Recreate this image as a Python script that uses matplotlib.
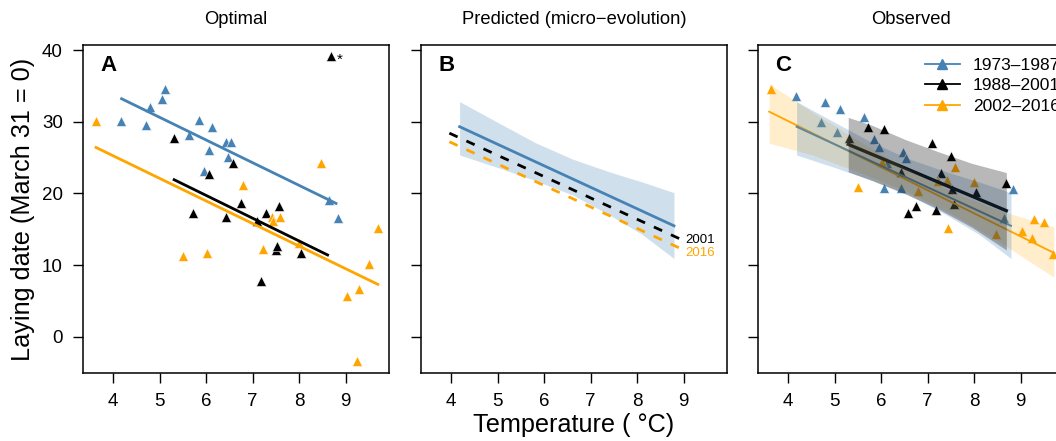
import matplotlib
matplotlib.use('Agg')
import matplotlib.pyplot as plt
from matplotlib.lines import Line2D

plt.rcParams['font.family'] = ['Liberation Sans', 'DejaVu Sans']
plt.rcParams['lines.scale_dashes'] = False

BLUE = '#4682B4'
ORANGE = '#FFA500'
BLACK = 'black'

# ---- data: spring temperature per year, optimal (A) and observed (C) laying dates
temp_p1 = [4.17, 4.70, 4.80, 5.05, 5.11, 5.62, 5.84, 5.95, 6.05, 6.13, 6.42, 6.46, 6.53, 8.64, 8.83]
opt_p1 = [30.1, 29.6, 32.1, 33.2, 34.6, 28.1, 30.2, 23.1, 26.1, 29.2, 27.1, 25.1, 27.1, 19.1, 16.6]
obs_p1 = [33.6, 30.0, 32.8, 28.5, 31.7, 30.6, 27.6, 26.4, 20.8, 24.2, 20.8, 25.7, 25.0, 16.6, 20.6]

temp_p2 = [5.30, 5.71, 6.05, 6.42, 6.57, 6.74, 7.09, 7.17, 7.29, 7.50, 7.52, 7.57, 8.04, 8.68]
opt_p2 = [27.7, 17.2, 22.7, 16.7, 24.2, 18.7, 16.2, 7.7, 17.2, 12.1, 12.7, 18.2, 11.7, 39.2]
obs_p2 = [27.7, 29.3, 29.0, 23.0, 17.3, 18.3, 27.0, 17.7, 22.8, 25.2, 20.6, 18.5, 20.2, 21.4]

temp_p3 = [3.63, 5.49, 6.01, 6.80, 7.23, 7.41, 7.44, 7.59, 8.00, 8.47, 9.02, 9.25, 9.28, 9.51, 9.69]
opt_p3 = [30.1, 11.2, 11.7, 21.2, 12.2, 16.7, 16.2, 16.7, 13.1, 24.2, 5.7, -3.4, 6.6, 10.2, 15.2]
obs_p3 = [34.5, 20.9, 24.4, 20.3, 21.7, 21.9, 15.2, 23.7, 21.6, 14.3, 14.7, 13.7, 16.4, 16.0, 11.5]

# panel A regression lines (end points)
optline_x1, optline_y1 = [4.18, 8.79], [33.2, 18.6]
optline_x2, optline_y2 = [5.31, 8.61], [21.9, 11.4]
optline_x3, optline_y3 = [3.63, 9.69], [26.4, 7.3]

# panel B: fit for 1973-1987 with CI, predicted shifts for 2001 and 2016
fit1_x = [4.18, 5.0, 5.8, 6.6, 7.4, 8.1, 8.79]
fit1_y = [29.3, 26.84, 24.44, 22.04, 19.64, 17.54, 15.47]
fit1_hi = [32.8, 29.9, 27.1, 24.8, 23.0, 21.6, 20.1]
fit1_lo = [25.35, 23.6, 21.8, 19.8, 17.0, 14.3, 10.9]
pred_x = [3.96, 9.0]
pred_2001 = [28.4, 13.4]
pred_2016 = [27.2, 12.1]

# panel C: fits for the two later periods with CI
fit2_x = [5.29, 5.8, 6.52, 7.23, 7.94, 8.69]
fit2_y = [26.84, 25.45, 23.5, 21.56, 19.63, 17.58]
fit2_hi = [30.6, 29.5, 27.5, 25.8, 24.2, 22.9]
fit2_lo = [23.0, 21.8, 19.9, 17.8, 15.3, 12.1]
fit3_x = [3.59, 4.5, 5.5, 6.5, 7.5, 8.5, 9.71]
fit3_y = [31.4, 28.47, 25.25, 22.03, 18.81, 15.59, 11.7]
fit3_hi = [35.3, 31.4, 27.4, 23.6, 20.3, 17.7, 15.3]
fit3_lo = [27.0, 25.4, 23.0, 20.4, 17.2, 13.4, 8.3]

periods = ['1973\u20131987', '1988\u20132001', '2002\u20132016']
titles = ['Optimal', 'Predicted (micro\u2212evolution)', 'Observed']
letters = ['A', 'B', 'C']

W, H = 1056, 441
fig = plt.figure(figsize=(W / 100, H / 100), dpi=100)
lefts = [83, 421, 758]
axes = []
for i, l in enumerate(lefts):
    ax = fig.add_axes([l / W, (H - 373) / H, 306 / W, 328 / H])
    ax.set_xlim(3.35, 9.93)
    ax.set_ylim(-5.07, 40.7)
    ax.set_xticks([4, 5, 6, 7, 8, 9])
    ax.set_yticks([0, 10, 20, 30, 40])
    ax.tick_params(direction='out', length=7.5, width=1, labelsize=13.5, pad=7)
    if i > 0:
        ax.set_yticklabels([])
    for s in ax.spines.values():
        s.set_linewidth(1.1)
    ax.text(0.5, 1 + 26 / 328, titles[i], transform=ax.transAxes,
            ha='center', va='center', fontsize=13.2)
    ax.text(0.057, 0.937, letters[i], transform=ax.transAxes, ha='left',
            va='center', fontsize=16, fontweight='bold')
    axes.append(ax)

mk = dict(marker='^', linestyle='none', ms=6.8, mec='white', mew=0.4)

# A: optimal
ax = axes[0]
ax.plot(temp_p1, opt_p1, color=BLUE, **mk)
ax.plot(temp_p2, opt_p2, color=BLACK, **mk)
ax.plot(temp_p3, opt_p3, color=ORANGE, **mk)
ax.plot(optline_x1, optline_y1, color=BLUE, lw=2)
ax.plot(optline_x2, optline_y2, color=BLACK, lw=2)
ax.plot(optline_x3, optline_y3, color=ORANGE, lw=2)
ax.text(temp_p2[-1] + 0.12, opt_p2[-1] - 0.5, '*', fontsize=11, ha='left', va='center')

# B: predicted
ax = axes[1]
ax.fill_between(fit1_x, fit1_lo, fit1_hi, color=BLUE, alpha=0.25, lw=0)
ax.plot(fit1_x, fit1_y, color=BLUE, lw=2)
ax.plot(pred_x, pred_2001, color=BLACK, lw=2, linestyle=(0, (6.5, 7)))
ax.plot(pred_x, pred_2016, color=ORANGE, lw=2, linestyle=(0, (6.5, 7)))
ax.text(pred_x[1] + 0.03, pred_2001[1] + 0.1, '2001', color=BLACK, fontsize=9.5, ha='left', va='center')
ax.text(pred_x[1] + 0.03, pred_2016[1] - 0.45, '2016', color=ORANGE, fontsize=9.5, ha='left', va='center')

# C: observed
ax = axes[2]
ax.plot(temp_p1, obs_p1, color=BLUE, **mk)
ax.plot(temp_p2, obs_p2, color=BLACK, **mk)
ax.plot(temp_p3, obs_p3, color=ORANGE, **mk)
ax.plot(fit3_x, fit3_y, color=ORANGE, lw=1.3)
ax.plot(fit1_x, fit1_y, color=BLUE, lw=1.4)
ax.plot(fit2_x, fit2_y, color=BLACK, lw=2.4)
ax.fill_between(fit3_x, fit3_lo, fit3_hi, color=ORANGE, alpha=0.2, lw=0, zorder=3)
ax.fill_between(fit1_x, fit1_lo, fit1_hi, color=BLUE, alpha=0.25, lw=0, zorder=3)
ax.fill_between(fit2_x, fit2_lo, fit2_hi, color=BLACK, alpha=0.28, lw=0, zorder=3)
handles = [Line2D([], [], color=c, marker='^', ms=7, lw=1.3)
           for c in (BLUE, BLACK, ORANGE)]
ax.legend(handles, periods, loc='upper left', bbox_to_anchor=(0.546, 0.962),
          frameon=False, fontsize=12.5, handlelength=2.0, handletextpad=0.75,
          labelspacing=0.33, borderpad=0, borderaxespad=0)

fig.text(23 / W, 1 - 209 / H, 'Laying date (March 31 = 0)', rotation=90,
         ha='center', va='center', fontsize=18.2)
fig.text(574 / W, 1 - 425 / H, 'Temperature ( \u00b0C)', ha='center',
         va='center', fontsize=18.2)

fig.savefig('out.png', dpi=100)
